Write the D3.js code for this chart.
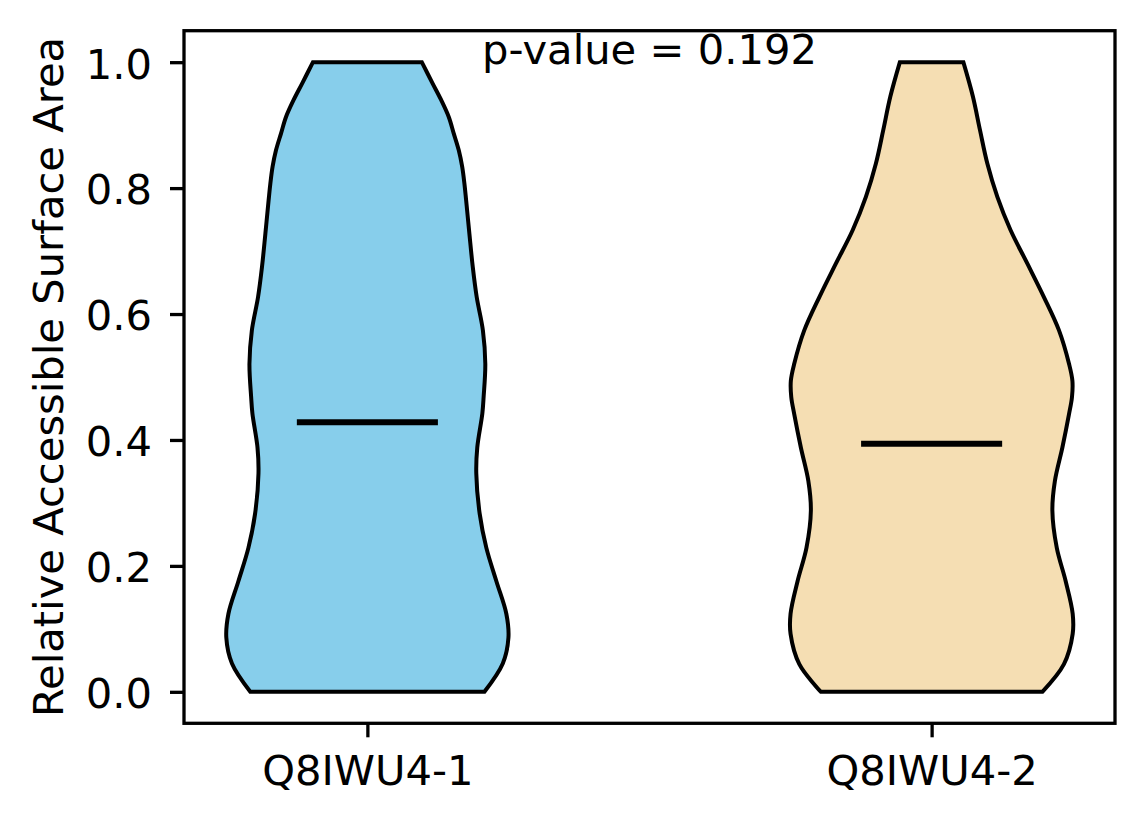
<!DOCTYPE html>
<html>
<head>
<meta charset="utf-8">
<script src="https://cdn.jsdelivr.net/npm/d3@7"></script>
<style>
  body { margin: 0; background: #fff; }
  svg text { font-family: "DejaVu Sans", sans-serif; fill: #000; }
</style>
</head>
<body>
<div class="wrapper"></div>
<script>
// categories and summary values
var groups = ["Q8IWU4-1", "Q8IWU4-2"];
var medians = [0.428, 0.394];
var pValue = 0.192;
var yTicks = [0, 0.2, 0.4, 0.6, 0.8, 1.0];

// density profile: RSA level -> relative width (1 = widest)
var levels1 = [0.0, 0.045, 0.086, 0.124, 0.176, 0.229, 0.283, 0.347, 0.388, 0.442, 0.468,
	0.521, 0.574, 0.627, 0.675, 0.728, 0.781, 0.807, 0.834, 0.860, 0.887, 0.913, 0.940, 0.966, 1.0];
var density1 = [0.83, 0.96, 1.0, 0.985, 0.914, 0.843, 0.796, 0.772, 0.779, 0.815, 0.824,
	0.836, 0.819, 0.775, 0.747, 0.723, 0.70, 0.688, 0.672, 0.648, 0.612, 0.577, 0.523, 0.463, 0.386];

var levels2 = [0.0, 0.044, 0.092, 0.124, 0.176, 0.229, 0.288, 0.335, 0.388, 0.441, 0.468,
	0.494, 0.521, 0.574, 0.627, 0.680, 0.733, 0.786, 0.839, 0.892, 0.945, 1.0];
var density2 = [0.785, 0.938, 1.0, 1.0, 0.95, 0.887, 0.856, 0.874, 0.927, 0.974, 0.995,
	0.998, 0.974, 0.903, 0.796, 0.679, 0.56, 0.466, 0.395, 0.343, 0.293, 0.225];

var fills = ["#87CEEB", "#F5DEB3"];

var WIDTH = 1144,
	HEIGHT = 824,
	LEFT = 184,
	RIGHT = 1115,
	TOP = 30.7,
	BOTTOM = 723.3,
	FONT = 41.67,
	HALF_WIDTH = 0.25;

var svg = d3.select(".wrapper")
	.append("svg")
		.attr("width", WIDTH)
		.attr("height", HEIGHT);

var x = d3.scaleLinear()
	.domain([0.675, 2.325])
	.range([LEFT, RIGHT]);

var y = d3.scaleLinear()
	.domain([-0.05, 1.05])
	.range([BOTTOM, TOP]);

var profiles = [
	d3.zip(levels1, density1),
	d3.zip(levels2, density2)
];

// violins
profiles.forEach(function(prof, i) {
	var pos = i + 1;
	var area = d3.area()
		.curve(d3.curveCatmullRom)
		.y(function(d) { return y(d[0]); })
		.x0(function(d) { return x(pos - HALF_WIDTH * d[1]); })
		.x1(function(d) { return x(pos + HALF_WIDTH * d[1]); });

	svg.append("path")
		.datum(prof)
		.attr("d", area)
		.attr("fill", fills[i])
		.attr("stroke", "#000")
		.attr("stroke-width", 4)
		.attr("stroke-linejoin", "miter");

	svg.append("line")
		.attr("x1", x(pos - HALF_WIDTH / 2))
		.attr("x2", x(pos + HALF_WIDTH / 2))
		.attr("y1", y(medians[i]))
		.attr("y2", y(medians[i]))
		.attr("stroke", "#000")
		.attr("stroke-width", 6);
});

// axes
var yAxis = d3.axisLeft(y)
	.tickValues(yTicks)
	.tickFormat(d3.format(".1f"))
	.tickSize(14)
	.tickPadding(18);

var xAxis = d3.axisBottom(x)
	.tickValues([1, 2])
	.tickFormat(function(d) { return groups[d - 1]; })
	.tickSize(14)
	.tickPadding(18);

var gy = svg.append("g")
	.attr("transform", "translate(" + LEFT + ",0)")
	.call(yAxis);

var gx = svg.append("g")
	.attr("transform", "translate(0," + BOTTOM + ")")
	.call(xAxis);

[gx, gy].forEach(function(g) {
	g.select(".domain").remove();
	g.selectAll(".tick line").attr("stroke", "#000").attr("stroke-width", 3.3);
	g.selectAll(".tick text")
		.attr("font-size", FONT)
		.attr("font-family", "DejaVu Sans")
		.attr("fill", "#000");
});
gy.selectAll(".tick text").attr("dy", "0.38em");

// frame
svg.append("rect")
	.attr("x", LEFT)
	.attr("y", TOP)
	.attr("width", RIGHT - LEFT)
	.attr("height", BOTTOM - TOP)
	.attr("fill", "none")
	.attr("stroke", "#000")
	.attr("stroke-width", 3.3);

// y label
svg.append("text")
	.attr("transform", "translate(63," + ((TOP + BOTTOM) / 2) + ") rotate(-90)")
	.attr("text-anchor", "middle")
	.attr("font-size", FONT)
	.text("Relative Accessible Surface Area");

// p-value annotation, baseline at RSA = 1.0
svg.append("text")
	.attr("x", x(1.5))
	.attr("y", y(1.0) + 2)
	.attr("text-anchor", "middle")
	.attr("font-size", FONT)
	.text("p-value = " + pValue);
</script>
</body>
</html>
